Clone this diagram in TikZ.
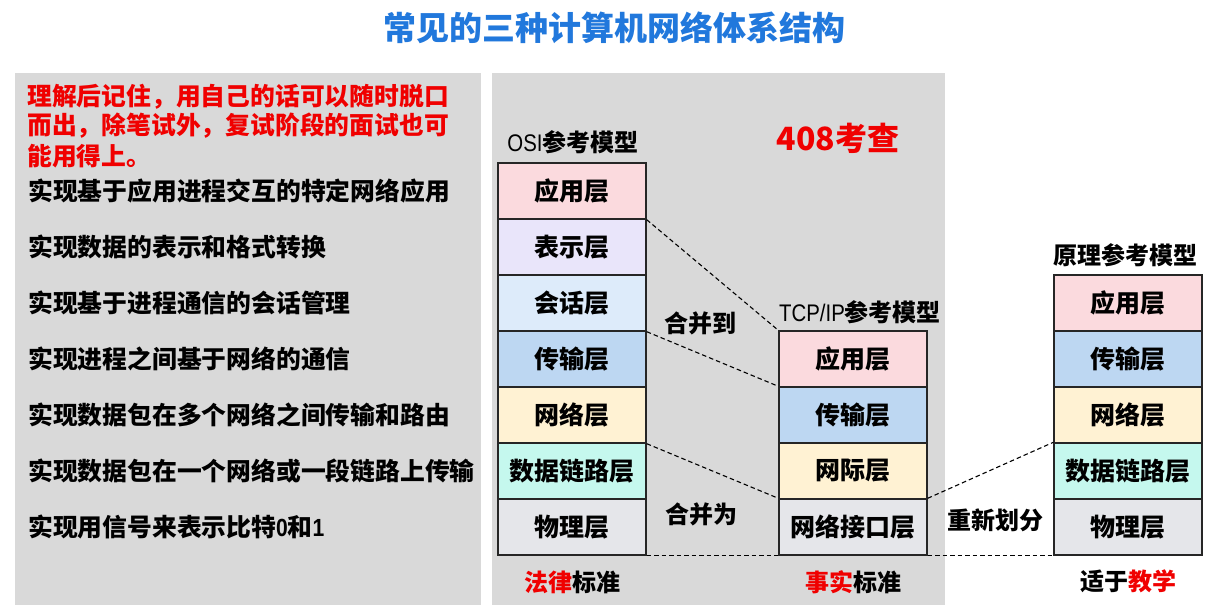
\documentclass[tikz,border=0pt]{standalone}
\usepackage{fontspec}
\setmainfont{Noto Sans CJK SC}
\newfontfamily\narrowlat{Liberation Sans}[FakeStretch=0.85]
\definecolor{panelgray}{HTML}{D9D9D9}
\definecolor{titleblue}{HTML}{2178DC}
\definecolor{hlred}{HTML}{F00000}
\definecolor{cApp}{HTML}{FBDADE}
\definecolor{cPre}{HTML}{E9E5FA}
\definecolor{cSes}{HTML}{DDEBFA}
\definecolor{cTra}{HTML}{BDD7F2}
\definecolor{cNet}{HTML}{FFF2D3}
\definecolor{cDl}{HTML}{C5F8EE}
\definecolor{cPhy}{HTML}{E5E6EA}
\tikzset{
    layer/.style={draw=black!85, line width=1.4pt, minimum width=148pt, minimum height=56pt,
        inner sep=0pt, font=\fontsize{25}{30}\selectfont\bfseries},
    link/.style={line width=1.1pt, dash pattern=on 4.5pt off 3pt},
    desc/.style={anchor=west, inner sep=0pt, font=\fontsize{24.8}{30}\selectfont\bfseries},
    caption/.style={inner sep=0pt, font=\fontsize{24}{28}\selectfont\bfseries},
}
\begin{document}
\begin{tikzpicture}[x=1pt, y=-1pt]
    \useasboundingbox (0,0) rectangle (1224,609);
    \fill[white] (0,0) rectangle (1224,609);
    \fill[panelgray] (15,73) rectangle (481,605);
    \fill[panelgray] (492,73) rectangle (945,605);
    \node[inner sep=0pt, text=titleblue, font=\fontsize{33}{36}\selectfont\bfseries] (title) at (614,28) {常见的三种计算机网络体系结构};
    % left panel
    \node[desc, text=hlred] (note1) at (27,97) {理解后记住，用自己的话可以随时脱口};
    \node[desc, text=hlred] (note2) at (27,126) {而出，除笔试外，复试阶段的面试也可};
    \node[desc, text=hlred] (note3) at (27,156) {能用得上。};
    \node[desc] (d1) at (28,191) {实现基于应用进程交互的特定网络应用};
    \node[desc] (d2) at (28,247) {实现数据的表示和格式转换};
    \node[desc] (d3) at (28,303) {实现基于进程通信的会话管理};
    \node[desc] (d4) at (28,359) {实现进程之间基于网络的通信};
    \node[desc] (d5) at (28,415) {实现数据包在多个网络之间传输和路由};
    \node[desc] (d6) at (28,471) {实现数据包在一个网络或一段链路上传输};
    \node[desc] (d7) at (28,527) {实现用信号来表示比特{\narrowlat\bfseries 0}和{\narrowlat\bfseries 1}};
    % OSI
    \node[caption] (osititle) at (573,142) {{\narrowlat\mdseries OSI}参考模型};
    \node[layer, fill=cApp] (osiapp) at (572,191) {应用层};
    \node[layer, fill=cPre] (osipre) at (572,247) {表示层};
    \node[layer, fill=cSes] (osises) at (572,303) {会话层};
    \node[layer, fill=cTra] (ositra) at (572,359) {传输层};
    \node[layer, fill=cNet] (osinet) at (572,415) {网络层};
    \node[layer, fill=cDl] (osidl) at (572,471) {数据链路层};
    \node[layer, fill=cPhy] (osiphy) at (572,527) {物理层};
    \node[caption] (osifoot) at (572,582) {{\color{hlred}法律}标准};
    \node[inner sep=0pt, text=hlred, font=\fontsize{32}{36}\selectfont\bfseries] (exam) at (838,138) {408考查};
    % TCP/IP
    \node[caption] (tcptitle) at (860,312) {{\narrowlat\mdseries TCP/IP}参考模型};
    \node[layer, fill=cApp] (tcpapp) at (853,359) {应用层};
    \node[layer, fill=cTra] (tcptra) at (853,415) {传输层};
    \node[layer, fill=cNet] (tcpnet) at (853,471) {网际层};
    \node[layer, fill=cPhy] (tcpif) at (853,527) {网络接口层};
    \node[caption] (tcpfoot) at (853,582) {{\color{hlred}事实}标准};
    % principle model
    \node[caption] (prtitle) at (1125,255) {原理参考模型};
    \node[layer, fill=cApp] (prapp) at (1128,303) {应用层};
    \node[layer, fill=cTra] (prtra) at (1128,359) {传输层};
    \node[layer, fill=cNet] (prnet) at (1128,415) {网络层};
    \node[layer, fill=cDl] (prdl) at (1128,471) {数据链路层};
    \node[layer, fill=cPhy] (prphy) at (1128,527) {物理层};
    \node[caption] (prfoot) at (1128,581) {适于{\color{hlred}教学}};
    % dashed connections
    \draw[link] (osiapp.south east) -- (tcpapp.north west);
    \draw[link] (osises.south east) -- (tcptra.north west);
    \draw[link] (osinet.south east) -- (tcpif.north west);
    \draw[link] (osiphy.south east) -- (tcpif.south west);
    \draw[link] (tcpif.north east) -- (prdl.north west);
    \draw[link] (tcpif.south east) -- (prphy.south west);
    \node[caption] (merge1) at (700,323) {合并到};
    \node[caption] (merge2) at (701,514) {合并为};
    \node[caption] (split) at (995,520) {重新划分};
\end{tikzpicture}
\end{document}
